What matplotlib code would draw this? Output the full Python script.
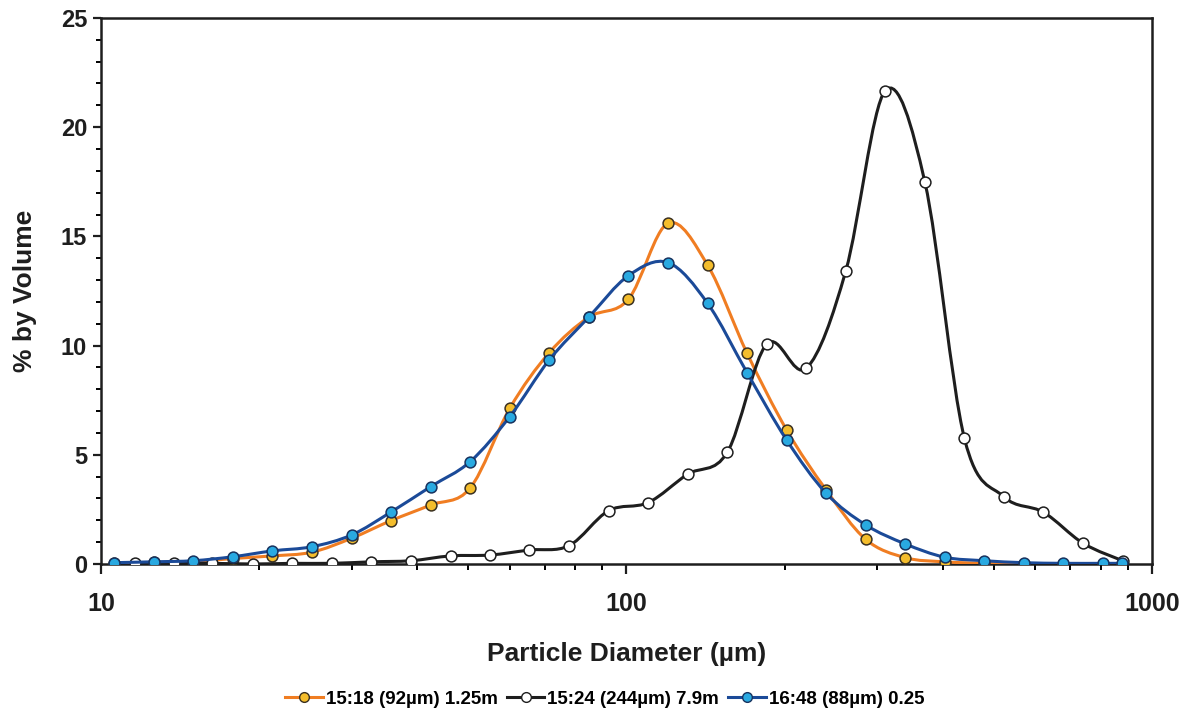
import numpy as np
import matplotlib
matplotlib.use('Agg')
import matplotlib.pyplot as plt
from matplotlib.path import Path
from matplotlib.patches import PathPatch
from matplotlib.lines import Line2D
from matplotlib.ticker import LogLocator, MultipleLocator, NullFormatter

plt.rcParams['font.family'] = ['Liberation Sans', 'DejaVu Sans']
plt.rcParams['font.weight'] = 'bold'

# size bins (um)
x_half = [10.6, 12.6, 15.0, 17.8, 21.2, 25.2, 30.0, 35.6, 42.4, 50.4, 60.0, 71.3,
          84.8, 100.9, 120.0, 142.7, 169.7, 201.8, 240.0, 285.4, 339.4, 403.6,
          480.0, 570.8, 678.8, 807.2, 878.0]
x_full = [11.6, 13.8, 16.3, 19.5, 23.1, 27.5, 32.7, 38.9, 46.3, 55.0, 65.4, 77.8,
          92.5, 110.0, 130.8, 155.6, 185.0, 220.0, 261.6, 311.0, 370.0, 440.0,
          523.0, 622.0, 740.0, 880.0]

# 15:18 (92um) 1.25m
orange_y = [0.04, 0.07, 0.10, 0.25, 0.37, 0.54, 1.18, 1.98, 2.70, 3.47, 7.13, 9.67,
            11.30, 12.12, 15.60, 13.69, 9.65, 6.14, 3.39, 1.13, 0.29, 0.10,
            0.03, 0.0, 0.0, 0.0, 0.0]
# 15:24 (244um) 7.9m
black_y = [0.03, 0.03, 0.03, 0.0, 0.03, 0.03, 0.10, 0.15, 0.37, 0.41, 0.64, 0.84,
           2.44, 2.81, 4.11, 5.11, 10.07, 8.96, 13.42, 21.67, 17.48, 5.75,
           3.08, 2.37, 0.95, 0.15]
# 16:48 (88um) 0.25
blue_y = [0.06, 0.10, 0.15, 0.33, 0.60, 0.79, 1.33, 2.37, 3.54, 4.68, 6.75, 9.34,
          11.30, 13.20, 13.80, 11.94, 8.76, 5.68, 3.24, 1.79, 0.92, 0.31,
          0.15, 0.06, 0.03, 0.03, 0.03]

labels = ['15:18 (92µm) 1.25m', '15:24 (244µm) 7.9m', '16:48 (88µm) 0.25']


def smooth_path(x, y):
    # excel-like smoothed line: cubic bezier through the points in log-x space
    u = np.log10(np.asarray(x, float))
    v = np.asarray(y, float)
    n = len(u)
    verts = [(x[0], y[0])]
    codes = [Path.MOVETO]
    for i in range(n - 1):
        i0 = max(i - 1, 0)
        i3 = min(i + 2, n - 1)
        c1 = (u[i] + (u[i + 1] - u[i0]) / 6, v[i] + (v[i + 1] - v[i0]) / 6)
        c2 = (u[i + 1] - (u[i3] - u[i]) / 6, v[i + 1] - (v[i3] - v[i]) / 6)
        verts += [(10 ** c1[0], c1[1]), (10 ** c2[0], c2[1]), (x[i + 1], y[i + 1])]
        codes += [Path.CURVE4] * 3
    return Path(verts, codes)


fig = plt.figure(figsize=(11.88, 7.17), dpi=100)
ax = fig.add_axes([0.085, 0.2134, 0.8845, 0.7616])
ax.set_xscale('log')

series = [
    (x_half, orange_y, '#f07d22', '#f4bd2c', '#3a3020'),
    (x_full, black_y, '#1e1e1e', 'white', '#1e1e1e'),
    (x_half, blue_y, '#1b4a98', '#29a9e1', '#17325e'),
]
handles = []
for k, (xs, ys, lc, fc, ec) in enumerate(series):
    z = 3 + k
    ax.add_patch(PathPatch(smooth_path(xs, ys), facecolor='none', edgecolor=lc,
                           lw=2.2, zorder=z, capstyle='round'))
    ax.plot(xs, ys, ls='none', marker='o', ms=7.8, mfc=fc, mec=ec, mew=1.1,
            zorder=z + 0.5)
    handles.append(Line2D([], [], color=lc, lw=2.2, marker='o', ms=7, mfc=fc,
                          mec=ec, mew=1.0))

ax.set_xlim(10, 1000)
ax.set_ylim(0, 25)

ax.xaxis.set_major_locator(LogLocator(base=10))
ax.xaxis.set_minor_locator(LogLocator(base=10, subs=np.arange(2, 10)))
ax.xaxis.set_minor_formatter(NullFormatter())
ax.set_xticks([10, 100, 1000])
ax.set_xticklabels(['10', '100', '1000'])
ax.yaxis.set_major_locator(MultipleLocator(5))
ax.yaxis.set_minor_locator(MultipleLocator(1))

for s in ax.spines.values():
    s.set_linewidth(1.8)
    s.set_color('#1e1e1e')
ax.tick_params(axis='x', which='major', direction='out', length=7, width=1.6,
               pad=13, labelsize=18, colors='#1e1e1e')
ax.tick_params(axis='x', which='minor', direction='out', length=4.5, width=1.4)
ax.tick_params(axis='y', which='major', direction='out', length=6, width=1.6,
               pad=4, labelsize=17, colors='#1e1e1e')
ax.tick_params(axis='y', which='minor', direction='out', length=3.5, width=1.4)

ax.set_xlabel('Particle Diameter (µm)', fontsize=19, fontweight='bold',
              color='#1e1e1e', labelpad=19)
ax.set_ylabel('% by Volume', fontsize=19, fontweight='bold', color='#1e1e1e',
              labelpad=17)

fig.legend(handles, labels, loc='lower center', bbox_to_anchor=(0.509, 0.0),
           ncol=3, frameon=False, fontsize=13.5, handlelength=2.0,
           handletextpad=0.15, columnspacing=0.5, borderaxespad=0.1)

fig.savefig('out.png', dpi=100, facecolor='white')
